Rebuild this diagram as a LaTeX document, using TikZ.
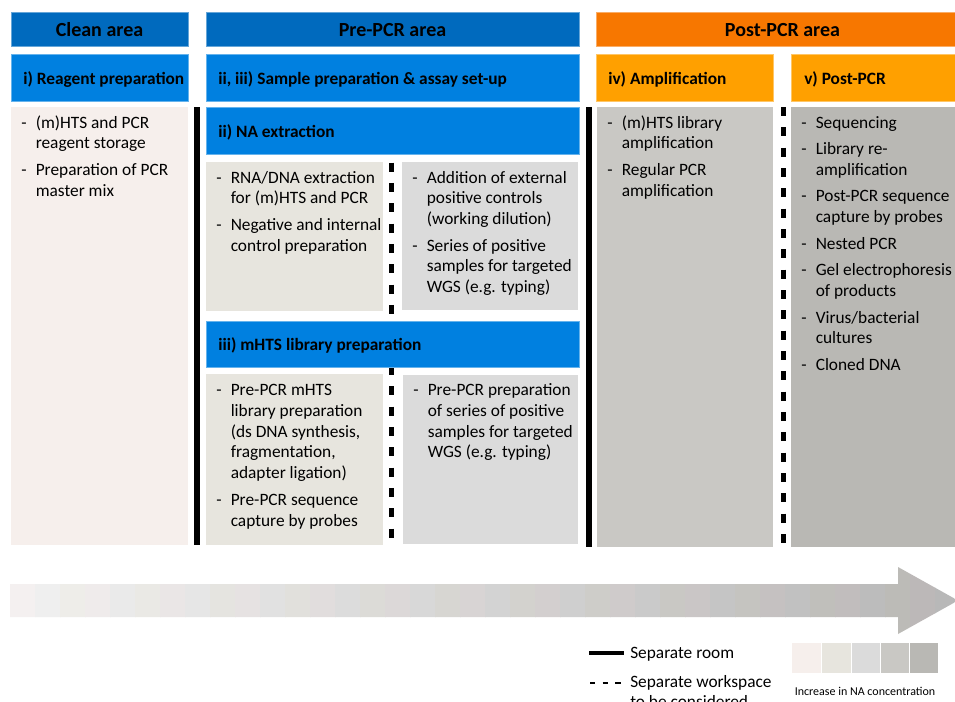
\documentclass[tikz,border=0pt]{standalone}
\usepackage{fontspec}
\setmainfont{Carlito}
\usetikzlibrary{fit}
\newlength\px \setlength\px{0.75pt}
\newlength\itemgap \setlength\itemgap{4.3pt}
\newcommand\itemlist[1]{\begin{tabular}[t]{@{}p{14.5\px}@{}l@{}}#1\end{tabular}}
\definecolor{hdrblue}{RGB}{0,106,190}
\definecolor{subblue}{RGB}{0,128,224}
\definecolor{hdrorange}{RGB}{247,119,0}
\definecolor{subamber}{RGB}{255,160,0}
\definecolor{cA}{RGB}{246,239,236}
\definecolor{cB}{RGB}{231,229,222}
\definecolor{cC}{RGB}{219,219,219}
\definecolor{cD}{RGB}{201,200,196}
\definecolor{cE}{RGB}{185,184,180}
\tikzset{
  area/.style={inner sep=0pt, fill=#1, draw=#1!60!white, line width=0.5pt},
  content/.style={inner sep=0pt, fill=#1},
  hdrtext/.style={anchor=base, inner sep=0pt, font=\fontsize{15pt}{18pt}\selectfont\bfseries},
  subtext/.style={anchor=base west, inner sep=0pt, font=\fontsize{13pt}{15.6pt}\selectfont\bfseries},
  bodytext/.style={anchor=base west, inner sep=0pt, font=\fontsize{13pt}{15.6pt}\selectfont},
  room/.style={line width=4.5pt},
  workspace/.style={line width=3.75pt, dash pattern=on 6.75pt off 8.5pt},
}
\begin{document}
\begin{tikzpicture}[x=0.75pt,y=-0.75pt]
\useasboundingbox (0,0) rectangle (955,701);
\clip (0,0) rectangle (955,701);
\fill[white] (0,0) rectangle (955,701);

% separators (drawn first, boxes lie over them)
\draw[room] (196.5,107) -- (196.5,545);
\draw[room] (588.5,107) -- (588.5,547);
\draw[workspace] (391.5,162.5) -- (391.5,545);
\draw[workspace] (783,107) -- (783,547);

% top headers
\node[area=hdrblue, fit={(11,12) (188,46)}] (cleanH) {};
\node[area=hdrblue, fit={(206,12) (579,46)}] (preH) {};
\node[area=hdrorange, fit={(596,12) (969,46)}] (postH) {};
\node[hdrtext] (cleanT) at (99.5,36.5) {Clean area};
\node[hdrtext] (preT) at (392.5,36.5) {Pre-PCR area};
\node[hdrtext] (postT) at (782.5,36.5) {Post-PCR area};

% second row headers
\node[area=subblue, fit={(11,54) (188,101)}] (reagH) {};
\node[area=subblue, fit={(206,54) (579,101)}] (sampH) {};
\node[area=subamber, fit={(596,54) (773,101)}] (ampH) {};
\node[area=subamber, fit={(791,54) (969,101)}] (ppH) {};
\node[subtext] (reagT) at (23,84) {i) Reagent preparation};
\node[subtext] (sampT) at (218,84) {ii, iii) Sample preparation \& assay set-up};
\node[subtext] (ampT) at (608,84) {iv) Amplification};
\node[subtext] (ppT) at (804,84) {v) Post-PCR};

% content boxes
\node[content=cA, fit={(11,107) (188,545)}] (cleanC) {};
\node[area=subblue, fit={(206,107) (579,154)}] (naH) {};
\node[content=cB, fit={(206,162) (383,311)}] (naL) {};
\node[content=cC, fit={(402,162) (578,310)}] (naR) {};
\node[area=subblue, fit={(206,321) (579,367)}] (mhH) {};
\node[content=cB, fit={(206,374) (383,545)}] (mhL) {};
\node[content=cC, fit={(403,375) (578,544)}] (mhR) {};
\node[content=cD, fit={(597,107) (773,547)}] (ampC) {};
\node[content=cE, fit={(791,107) (969,547)}] (ppC) {};

\node[subtext] (naT) at (218,137) {ii) NA extraction};
\node[subtext] (mhT) at (218,350) {iii) mHTS library preparation};

% body texts
\node[bodytext] (cleanL) at (21,128) {\itemlist{
-&(m)HTS and PCR\\ &reagent storage\\[\itemgap]
-&Preparation of PCR\\ &master mix}};
\node[bodytext] (naLL) at (216,183) {\itemlist{
-&RNA/DNA extraction\\ &for (m)HTS and PCR\\[\itemgap]
-&Negative and internal\\ &control preparation}};
\node[bodytext] (naRL) at (412,183) {\itemlist{
-&Addition of external\\ &positive controls\\ &(working dilution)\\[\itemgap]
-&Series of positive\\ &samples for targeted\\ &WGS (e.g. typing)}};
\node[bodytext] (mhLL) at (216,395.5) {\itemlist{
-&Pre-PCR mHTS\\ &library preparation\\ &(ds DNA synthesis,\\ &fragmentation,\\ &adapter ligation)\\[\itemgap]
-&Pre-PCR sequence\\ &capture by probes}};
\node[bodytext] (mhRL) at (413,395.5) {\itemlist{
-&Pre-PCR preparation\\ &of series of positive\\ &samples for targeted\\ &WGS (e.g. typing)}};
\node[bodytext] (ampL) at (607,128) {\itemlist{
-&(m)HTS library\\ &amplification\\[\itemgap]
-&Regular PCR\\ &amplification}};
\node[bodytext] (ppL) at (801,128) {\itemlist{
-&Sequencing\\[\itemgap]
-&Library re-\\ &amplification\\[\itemgap]
-&Post-PCR sequence\\ &capture by probes\\[\itemgap]
-&Nested PCR\\[\itemgap]
-&Gel electrophoresis\\ &of products\\[\itemgap]
-&Virus/bacterial\\ &cultures\\[\itemgap]
-&Cloned DNA}};

% gradient arrow
\begin{scope}
\clip (10,584) -- (898,584) -- (898,567) -- (958,600.5) -- (898,634) -- (898,617) -- (10,617) -- cycle;
\foreach \i in {0,...,37} {
  \pgfmathsetmacro\g{241-57*\i/37}
  \pgfmathtruncatemacro\k{mod(\i,3)}
  \ifnum\k=0
    \pgfmathtruncatemacro\rr{\g+3}\pgfmathtruncatemacro\gg{\g-1}\pgfmathtruncatemacro\bb{\g-1}
  \else\ifnum\k=1
    \pgfmathtruncatemacro\rr{\g}\pgfmathtruncatemacro\gg{\g}\pgfmathtruncatemacro\bb{\g}
  \else
    \pgfmathtruncatemacro\rr{\g+1}\pgfmathtruncatemacro\gg{\g}\pgfmathtruncatemacro\bb{\g-4}
  \fi\fi
  \definecolor{bandc}{RGB}{\rr,\gg,\bb}
  \fill[bandc] ({10+25*\i},560) rectangle ({35.6+25*\i},640);
}
\end{scope}

% legend
\draw[line width=3.5pt] (589,653) -- (624,653);
\node[bodytext] (roomT) at (630,658) {Separate room};
\draw[line width=2.2pt, dash pattern=on 3.9pt off 5.6pt] (590,683) -- (622,683);
\node[bodytext] (wsT) at (630,687) {\begin{tabular}[t]{@{}l@{}}Separate workspace\\to be considered\end{tabular}};

\fill[cA] (792,643) rectangle (821,673);
\fill[cB] (822,643) rectangle (851,673);
\fill[cC] (852,643) rectangle (880,673);
\fill[cD] (881,643) rectangle (909,673);
\fill[cE] (910,643) rectangle (938,673);
\node[anchor=base, inner sep=0pt, font=\fontsize{9pt}{11pt}\selectfont] (incT) at (865,695) {Increase in NA concentration};
\end{tikzpicture}
\end{document}
